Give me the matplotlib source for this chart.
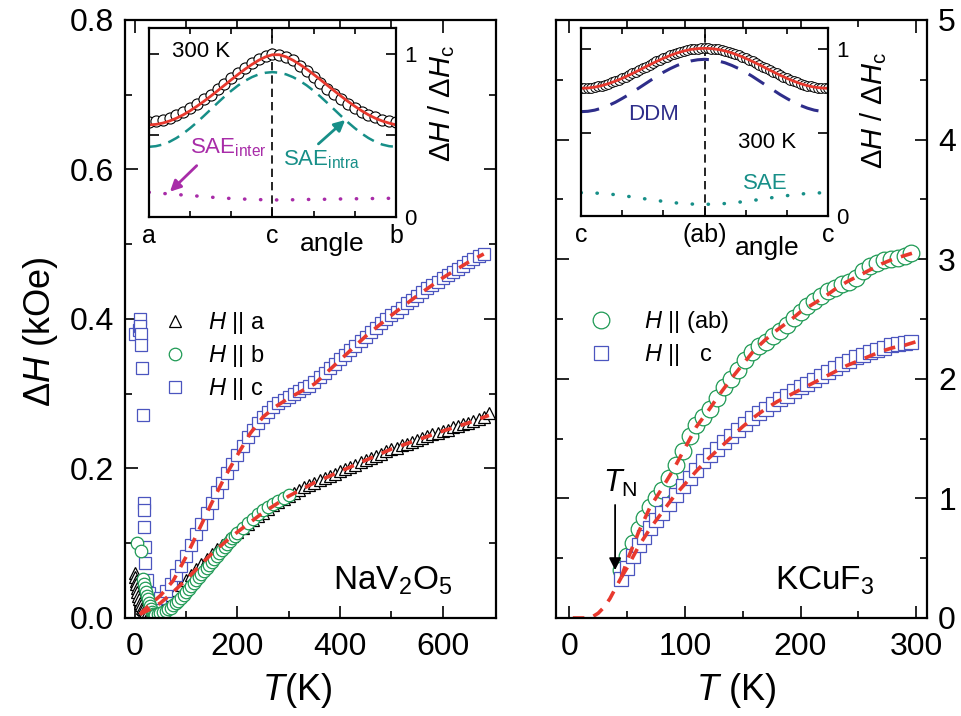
import numpy as np
import matplotlib
matplotlib.use('Agg')
import matplotlib.pyplot as plt
from matplotlib.ticker import MultipleLocator, FixedLocator

plt.rcParams['font.family'] = ['Liberation Sans', 'DejaVu Sans']
plt.rcParams['mathtext.fontset'] = 'custom'
plt.rcParams['mathtext.rm'] = 'Liberation Sans'
plt.rcParams['mathtext.it'] = 'Liberation Sans:italic'
plt.rcParams['mathtext.bf'] = 'Liberation Sans:bold'

RED = '#e8392e'
GREEN = '#1f9a55'
BLUE = '#4b55bf'
TEAL = '#178f88'
MAGENTA = '#a82ca8'
NAVY = '#2e2d8a'

# ---------------- NaV2O5 linewidth vs temperature ----------------
a_T = [0, 1, 2, 3, 4, 5, 6, 8, 10, 12, 14, 16, 18, 20, 24, 28, 32, 36] + list(range(40, 691, 10))
a_dH = [0.060, 0.055, 0.050, 0.045, 0.040, 0.035, 0.030, 0.025, 0.020, 0.017, 0.014, 0.012,
        0.010, 0.008, 0.006, 0.005, 0.006, 0.008,
        0.012, 0.018, 0.025, 0.031, 0.038, 0.044, 0.051, 0.058, 0.065, 0.072,
        0.079, 0.086, 0.092, 0.098, 0.104, 0.110, 0.115, 0.121, 0.126, 0.131,
        0.136, 0.141, 0.146, 0.151, 0.155, 0.159, 0.163, 0.167, 0.171, 0.175,
        0.178, 0.181, 0.184, 0.187, 0.190, 0.193, 0.196, 0.199, 0.202, 0.205,
        0.208, 0.211, 0.214, 0.217, 0.220, 0.223, 0.226, 0.228, 0.231, 0.233,
        0.236, 0.238, 0.241, 0.243, 0.246, 0.248, 0.250, 0.252, 0.255, 0.257,
        0.259, 0.261, 0.264, 0.266, 0.269, 0.274]

b_T = [4, 13, 16, 18, 20, 22, 24, 26, 28, 30, 32, 34, 36, 38, 40] + list(range(45, 201, 5)) + list(range(210, 301, 10))
b_dH = [0.100, 0.089, 0.052, 0.045, 0.040, 0.035, 0.030, 0.025, 0.020, 0.016, 0.012, 0.008,
        0.005, 0.004, 0.004,
        0.005, 0.006, 0.008, 0.010, 0.012, 0.014, 0.017, 0.020, 0.023, 0.027, 0.031,
        0.035, 0.039, 0.043, 0.047, 0.051, 0.055, 0.059, 0.063, 0.067, 0.071, 0.075,
        0.079, 0.083, 0.087, 0.091, 0.095, 0.099, 0.103, 0.107, 0.110, 0.114,
        0.120, 0.127, 0.133, 0.139, 0.144, 0.149, 0.153, 0.157, 0.161, 0.165]

c_T = [1, 8, 10, 11, 12, 13, 14, 16, 18, 18, 18, 19, 20, 24, 27, 30, 33, 36] + list(range(40, 681, 10))
c_dH = [0.380, 0.385, 0.400, 0.390, 0.380, 0.365, 0.335, 0.272, 0.154, 0.144, 0.122, 0.095,
        0.073, 0.051, 0.033, 0.022, 0.015, 0.012,
        0.018, 0.027, 0.036, 0.046, 0.058, 0.070, 0.083, 0.097, 0.112, 0.126,
        0.140, 0.154, 0.168, 0.181, 0.194, 0.206, 0.218, 0.230, 0.242, 0.252,
        0.261, 0.269, 0.276, 0.282, 0.287, 0.291, 0.295, 0.299, 0.303, 0.307,
        0.311, 0.316, 0.322, 0.328, 0.334, 0.340, 0.346, 0.352, 0.358, 0.364,
        0.370, 0.376, 0.382, 0.388, 0.394, 0.400, 0.405, 0.410, 0.415, 0.421,
        0.426, 0.431, 0.436, 0.441, 0.446, 0.450, 0.455, 0.459, 0.463, 0.467,
        0.471, 0.476, 0.480, 0.484, 0.487]

fit_a_T = [10, 25, 50, 75, 100, 125, 150, 175, 200, 250, 300, 350, 400, 450, 500, 550, 600, 650, 690]
fit_a = [0.005, 0.010, 0.020, 0.035, 0.051, 0.069, 0.086, 0.101, 0.115, 0.141, 0.163,
         0.181, 0.196, 0.211, 0.226, 0.238, 0.250, 0.261, 0.271]
fit_c_T = [10, 25, 50, 75, 100, 125, 150, 175, 200, 225, 250, 275, 300, 350, 400, 450, 500, 550, 600, 650, 680]
fit_c = [0.005, 0.015, 0.030, 0.050, 0.082, 0.118, 0.154, 0.188, 0.218, 0.247, 0.269,
         0.283, 0.294, 0.313, 0.345, 0.377, 0.405, 0.431, 0.455, 0.476, 0.487]

# ---------------- KCuF3 linewidth vs temperature ----------------
ab_T = [45, 50, 55, 60, 65, 70, 75, 80, 86, 92, 98, 104, 110, 116, 122, 128, 134, 140, 146,
        152, 158, 164, 170, 176, 182, 188, 194, 200, 206, 212, 218, 224, 230, 236, 242, 248,
        254, 260, 266, 272, 278, 284, 290, 296]
ab_dH = [0.40, 0.52, 0.63, 0.74, 0.84, 0.93, 1.00, 1.07, 1.17, 1.28, 1.40, 1.52, 1.61, 1.68,
         1.75, 1.84, 1.93, 2.00, 2.07, 2.16, 2.22, 2.27, 2.31, 2.36, 2.40, 2.45, 2.51, 2.56,
         2.61, 2.65, 2.69, 2.73, 2.76, 2.79, 2.81, 2.84, 2.90, 2.94, 2.97, 2.99, 3.00, 3.01,
         3.03, 3.05]
kc_T = ab_T
kc_dH = [0.33, 0.42, 0.52, 0.61, 0.68, 0.75, 0.82, 0.88, 0.95, 1.03, 1.10, 1.17, 1.24, 1.31,
         1.36, 1.41, 1.47, 1.52, 1.57, 1.62, 1.67, 1.71, 1.75, 1.79, 1.83, 1.86, 1.90, 1.93,
         1.96, 1.99, 2.02, 2.06, 2.09, 2.12, 2.15, 2.18, 2.20, 2.22, 2.24, 2.26, 2.28, 2.29,
         2.30, 2.31]

fit_low_T = [3, 10, 15, 20, 25, 30, 35, 40, 45]
fit_low = [0.0, 0.0, 0.0, 0.01, 0.04, 0.09, 0.16, 0.25, 0.34]
fit_ab_T = [45, 50, 55, 60, 70, 80, 90, 100, 110, 120, 130, 140, 150, 160, 170, 180, 190, 200,
            210, 220, 230, 240, 250, 260, 270, 280, 290, 300]
fit_ab = [0.34, 0.48, 0.60, 0.72, 0.93, 1.08, 1.24, 1.42, 1.60, 1.73, 1.87, 2.00, 2.12, 2.24,
          2.33, 2.41, 2.48, 2.56, 2.62, 2.68, 2.75, 2.81, 2.86, 2.91, 2.96, 3.00, 3.03, 3.06]
fit_kc_T = [45, 50, 60, 70, 80, 90, 100, 110, 120, 130, 140, 150, 160, 170, 180, 190, 200,
            210, 220, 230, 240, 250, 260, 270, 280, 290, 300]
fit_kc = [0.34, 0.42, 0.60, 0.75, 0.88, 1.01, 1.12, 1.23, 1.33, 1.42, 1.51, 1.60, 1.68, 1.75,
          1.81, 1.86, 1.91, 1.96, 2.01, 2.06, 2.11, 2.15, 2.19, 2.23, 2.26, 2.28, 2.31]

# ---------------- angular dependences at 300 K ----------------
ang5 = list(range(-90, 91, 5))
nav_data = [0.585, 0.588, 0.595, 0.607, 0.624, 0.645, 0.668, 0.693, 0.722, 0.752, 0.785,
            0.818, 0.852, 0.886, 0.918, 0.948, 0.972, 0.990, 1.000, 0.998, 0.985, 0.962,
            0.930, 0.895, 0.858, 0.822, 0.788, 0.755, 0.724, 0.695, 0.668, 0.645, 0.627,
            0.611, 0.598, 0.590, 0.585]
nav_fit = [0.565, 0.568, 0.576, 0.589, 0.606, 0.627, 0.652, 0.680, 0.710, 0.742, 0.775,
           0.809, 0.843, 0.876, 0.908, 0.937, 0.963, 0.984, 0.997, 0.997, 0.984, 0.963,
           0.937, 0.908, 0.876, 0.843, 0.809, 0.775, 0.742, 0.710, 0.680, 0.652, 0.627,
           0.606, 0.589, 0.576, 0.565]
nav_intra = [0.430, 0.434, 0.444, 0.461, 0.484, 0.512, 0.545, 0.581, 0.620, 0.660, 0.700,
             0.739, 0.775, 0.808, 0.836, 0.859, 0.876, 0.886, 0.890, 0.886, 0.876, 0.859,
             0.836, 0.808, 0.775, 0.739, 0.700, 0.660, 0.620, 0.581, 0.545, 0.512, 0.484,
             0.461, 0.444, 0.434, 0.430]
nav_inter = [0.150, 0.147, 0.143, 0.140, 0.137, 0.133, 0.130, 0.127, 0.123, 0.120, 0.117,
             0.114, 0.112, 0.110, 0.108, 0.106, 0.105, 0.104, 0.103, 0.103, 0.104, 0.104,
             0.105, 0.106, 0.106, 0.107, 0.107, 0.108, 0.109, 0.109, 0.110, 0.111, 0.111,
             0.112, 0.112, 0.113, 0.113]

ang25 = [x / 2 for x in range(-180, 181, 5)]
kcf_data = [0.766, 0.766, 0.768, 0.770, 0.773, 0.777, 0.782, 0.788, 0.794, 0.801, 0.809,
            0.817, 0.826, 0.835, 0.845, 0.855, 0.865, 0.876, 0.886, 0.896, 0.907, 0.917,
            0.927, 0.937, 0.946, 0.955, 0.963, 0.971, 0.978, 0.984, 0.990, 0.995, 0.999,
            1.002, 1.004, 1.005, 1.006, 1.005, 1.004, 1.002, 0.999, 0.995, 0.990, 0.984,
            0.978, 0.971, 0.963, 0.955, 0.946, 0.937, 0.927, 0.917, 0.907, 0.896, 0.886,
            0.876, 0.865, 0.855, 0.845, 0.835, 0.826, 0.817, 0.809, 0.801, 0.794, 0.788,
            0.782, 0.777, 0.773, 0.770, 0.768, 0.766, 0.766]
kcf_fit = [0.766, 0.768, 0.773, 0.782, 0.794, 0.809, 0.826, 0.845, 0.865, 0.886, 0.907,
           0.927, 0.946, 0.963, 0.978, 0.990, 0.999, 1.004, 1.006, 1.004, 0.999, 0.990,
           0.978, 0.963, 0.946, 0.927, 0.907, 0.886, 0.865, 0.845, 0.826, 0.809, 0.794,
           0.782, 0.773, 0.768, 0.766]
kcf_ddm = [0.626, 0.628, 0.635, 0.647, 0.663, 0.682, 0.705, 0.729, 0.756, 0.783, 0.810,
           0.837, 0.862, 0.884, 0.903, 0.919, 0.930, 0.937, 0.940, 0.937, 0.930, 0.919,
           0.903, 0.884, 0.862, 0.837, 0.810, 0.783, 0.756, 0.729, 0.705, 0.682, 0.663,
           0.647, 0.635, 0.628, 0.626]
kcf_sae = [0.140, 0.139, 0.138, 0.135, 0.132, 0.128, 0.122, 0.117, 0.111, 0.105, 0.099,
           0.093, 0.088, 0.083, 0.078, 0.075, 0.072, 0.071, 0.070, 0.071, 0.072, 0.075,
           0.078, 0.083, 0.088, 0.093, 0.099, 0.105, 0.111, 0.117, 0.122, 0.128, 0.132,
           0.135, 0.138, 0.139, 0.140]


def frame(ax, major=9, minor=5):
    for s in ax.spines.values():
        s.set_linewidth(1.6)
    ax.tick_params(which='both', direction='in', top=True, right=True, width=1.2)
    ax.tick_params(which='major', length=major)
    ax.tick_params(which='minor', length=minor)


fig = plt.figure(figsize=(9.61, 7.16), dpi=100)
ax1 = fig.add_axes([0.1301, 0.1369, 0.3861, 0.8352])
ax2 = fig.add_axes([0.5786, 0.1369, 0.3861, 0.8352])

# NaV2O5 panel
mk = dict(ls='none', mfc='white', mew=0.9)
h_a, = ax1.plot(a_T, a_dH, marker='^', ms=8.5, mec='black', label=r'$H$ || a', **mk)
h_c, = ax1.plot(c_T, c_dH, marker='s', ms=8, mec=BLUE, label=r'$H$ || c', **mk)
h_b, = ax1.plot(b_T, b_dH, marker='o', ms=9, mec=GREEN, label=r'$H$ || b', **mk)
dash = dict(color=RED, lw=2.6, ls=(0, (3.2, 2.6)))
ax1.plot(fit_a_T, fit_a, **dash)
ax1.plot(fit_c_T, fit_c, **dash)

frame(ax1)
ax1.set_xlim(-19, 704)
ax1.set_ylim(0, 0.8)
ax1.xaxis.set_major_locator(FixedLocator([0, 200, 400, 600]))
ax1.xaxis.set_minor_locator(FixedLocator([100, 300, 500]))
ax1.yaxis.set_major_locator(MultipleLocator(0.2))
ax1.yaxis.set_minor_locator(MultipleLocator(0.1))
ax1.yaxis.set_major_formatter(lambda v, p: f'{v:.1f}')
ax1.tick_params(axis='x', labelsize=23, pad=10)
ax1.tick_params(axis='y', labelsize=23, pad=8)
ax1.set_xlabel(r'$T$(K)', fontsize=26)
ax1.set_ylabel(r'Δ$H$ (kOe)', fontsize=26)
ax1.xaxis.set_label_coords(0.4636, -0.088)
ax1.yaxis.set_label_coords(-0.175, 0.478)
ax1.legend(handles=[h_a, h_b, h_c], loc='upper left', bbox_to_anchor=(0.105, 0.515),
           frameon=False, fontsize=17, handlelength=0.95, handletextpad=0.9,
           labelspacing=0.3, borderpad=0, borderaxespad=0)
ax1.text(0.561, 0.047, r'NaV$_2$O$_5$', transform=ax1.transAxes, fontsize=24,
         ha='left', va='baseline')

# KCuF3 panel
h_ab, = ax2.plot(ab_T, ab_dH, marker='o', ms=12, mec=GREEN, label=r'$H$ || (ab)', **mk)
h_kc, = ax2.plot(kc_T, kc_dH, marker='s', ms=10, mec=BLUE, label=r'$H$ ||   c', **mk)
ax2.plot(fit_low_T, fit_low, **dash)
ax2.plot(fit_ab_T, fit_ab, **dash)
ax2.plot(fit_kc_T, fit_kc, **dash)

frame(ax2)
ax2.set_xlim(-11.5, 309.5)
ax2.set_ylim(0, 5)
ax2.xaxis.set_major_locator(FixedLocator([0, 100, 200, 300]))
ax2.xaxis.set_minor_locator(FixedLocator([50, 150, 250]))
ax2.yaxis.set_major_locator(MultipleLocator(1))
ax2.yaxis.set_minor_locator(MultipleLocator(0.5))
ax2.tick_params(axis='x', labelsize=23, pad=10)
ax2.tick_params(axis='y', labelsize=23, pad=8, labelleft=False, labelright=True)
ax2.set_xlabel(r'$T$ (K)', fontsize=26)
ax2.xaxis.set_label_coords(0.485, -0.088)
ax2.legend(handles=[h_ab, h_kc], loc='upper left', bbox_to_anchor=(0.09, 0.517),
           frameon=False, fontsize=17, handlelength=1.0, handletextpad=1.3,
           labelspacing=0.3, borderpad=0, borderaxespad=0)
ax2.text(0.59, 0.047, r'KCuF$_3$', transform=ax2.transAxes, fontsize=24,
         ha='left', va='baseline')
ax2.annotate('', xy=(39.6, 0.40), xytext=(39.6, 0.945),
             arrowprops=dict(arrowstyle='-|>', color='black', lw=1.3, mutation_scale=18,
                             shrinkA=0, shrinkB=0))
ax2.text(29.4, 1.056, r'$T_\mathrm{N}$', fontsize=22, ha='left', va='baseline')


def inset(rect, labels):
    ax = fig.add_axes(rect)
    frame(ax, major=7, minor=4)
    ax.set_xlim(-90, 90)
    ax.xaxis.set_major_locator(FixedLocator([-90, 0, 90]))
    ax.xaxis.set_minor_locator(FixedLocator([-60, -30, 30, 60]))
    ax.set_xticklabels(labels)
    ax.yaxis.set_major_locator(FixedLocator([0, 1]))
    ax.yaxis.set_minor_locator(FixedLocator([0.5]))
    ax.tick_params(axis='x', labelsize=18, pad=5)
    ax.tick_params(axis='y', labelsize=16, pad=6, labelleft=False, labelright=True)
    ax.tick_params(axis='y', which='minor', length=7)
    ax.axvline(0, color='black', lw=1.2, ls=(0, (5, 3)))
    ax.set_ylabel(r'Δ$H$ / Δ$H_\mathrm{c}$', fontsize=21)
    ax.yaxis.set_label_position('right')
    return ax


# NaV2O5 inset
ins1 = inset([0.1550, 0.6974, 0.2570, 0.2636], ['a', 'c', 'b'])
ins1.set_ylim(0, 1.162)
ins1.plot(ang5, nav_intra, color=TEAL, lw=1.8, ls=(0, (5, 3)))
ins1.plot(ang5, nav_inter, color=MAGENTA, lw=2.5, ls=(0, (0.1, 4.5)), dash_capstyle='round')
ins1.plot(ang5, nav_data, ls='none', marker='o', ms=8, mfc='white', mec='black', mew=0.8)
ins1.plot(ang5, nav_fit, color=RED, lw=2.0)
ins1.text(-73.4, 1.016, '300 K', fontsize=16, ha='left', va='center')
ins1.text(-60.1, 0.423, r'SAE$_\mathrm{inter}$', color=MAGENTA, fontsize=16, ha='left', va='center')
ins1.text(8.0, 0.349, r'SAE$_\mathrm{intra}$', color=TEAL, fontsize=16, ha='left', va='center')
ins1.annotate('', xy=(-74.7, 0.154), xytext=(-55.2, 0.314),
              arrowprops=dict(arrowstyle='-|>', color=MAGENTA, lw=2, mutation_scale=16,
                              shrinkA=0, shrinkB=0))
ins1.annotate('', xy=(53, 0.595), xytext=(33.5, 0.448),
              arrowprops=dict(arrowstyle='-|>', color=TEAL, lw=2, mutation_scale=16,
                              shrinkA=0, shrinkB=0))
ins1.text(0.742, -0.145, 'angle', transform=ins1.transAxes, fontsize=19, ha='center', va='center')
ins1.yaxis.set_label_coords(1.124, 0.6)

# KCuF3 inset
ins2 = inset([0.6046, 0.6983, 0.2570, 0.2622], ['c', '(ab)', 'c'])
ins2.set_ylim(0, 1.126)
ins2.plot(ang5, kcf_ddm, color=NAVY, lw=2.2, ls=(0, (6, 4)))
ins2.plot(ang5, kcf_sae, color=TEAL, lw=2.5, ls=(0, (0.1, 4.5)), dash_capstyle='round')
ins2.plot(ang25, kcf_data, ls='none', marker='o', ms=7, mfc='white', mec='black', mew=0.7)
ins2.plot(ang5, kcf_fit, color=RED, lw=2.0)
ins2.text(-55.7, 0.606, 'DDM', color=NAVY, fontsize=16, ha='left', va='center')
ins2.text(24.4, 0.44, '300 K', fontsize=16, ha='left', va='center')
ins2.text(27.8, 0.198, 'SAE', color=TEAL, fontsize=16, ha='left', va='center')
ins2.text(0.752, -0.17, 'angle', transform=ins2.transAxes, fontsize=19, ha='center', va='center')
ins2.yaxis.set_label_coords(1.121, 0.56)

fig.savefig('out.png', dpi=100)
